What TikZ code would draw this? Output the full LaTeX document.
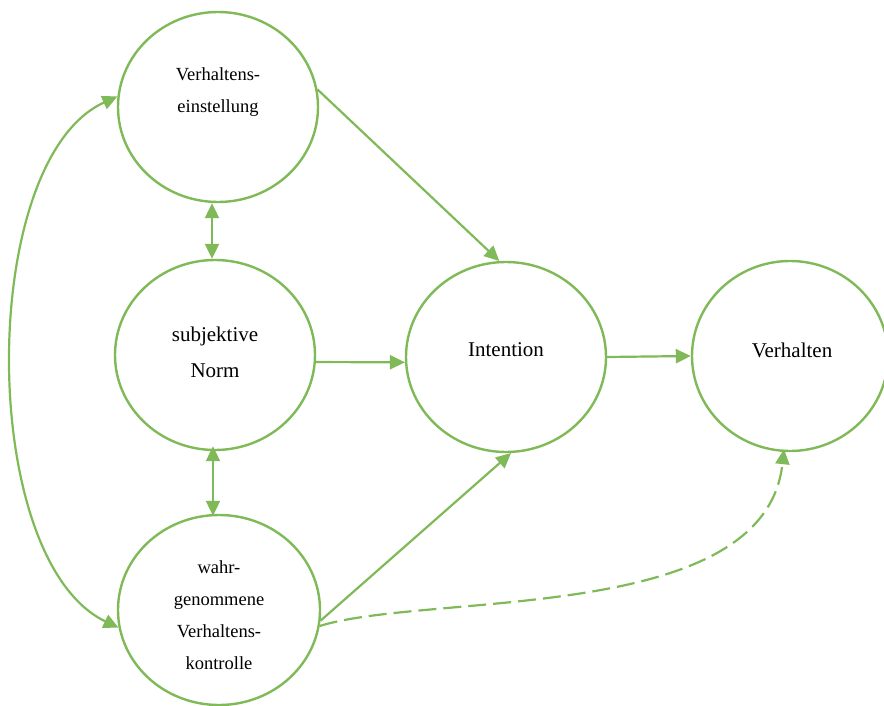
\documentclass[tikz,border=0pt]{standalone}
\usepackage{fontspec}
\setmainfont{Liberation Serif}
\usetikzlibrary{shapes.geometric,arrows.meta}
\definecolor{grn}{RGB}{128,186,88}
\begin{document}
\begin{tikzpicture}[x=1pt,y=-1pt,
  circ/.style={ellipse, draw=grn, line width=2.4pt, minimum width=200pt, minimum height=190pt, inner sep=0pt},
  smalltxt/.style={align=center, inner sep=0pt, font=\fontsize{18.5}{32}\selectfont},
  bigtxt/.style={align=center, inner sep=0pt, font=\fontsize{21}{36}\selectfont},
  conn/.style={draw=grn, line width=2.2pt, -{Triangle[length=15pt,width=14pt]}},
  dconn/.style={draw=grn, line width=2.2pt, {Triangle[length=15pt,width=14pt]}-{Triangle[length=15pt,width=14pt]}},
  dashconn/.style={conn, dash pattern=on 18pt off 7pt}
]
\useasboundingbox (0,0) rectangle (884,706);
\fill[white] (0,0) rectangle (884,706);

\node[circ] (A) at (218,107) {};
\node[circ] (N) at (215,355) {};
\node[circ, minimum width=202pt] (W) at (219,610) {};
\node[circ] (I) at (506,357) {};
\node[circ, minimum width=196pt] (V) at (790,356) {};

\node[smalltxt] (At) at (218,92) {Verhaltens-\\einstellung};
\node[bigtxt] (Nt) at (215,352) {subjektive\\Norm};
\node[smalltxt] (Wt) at (219,615) {wahr-\\genommene\\Verhaltens-\\kontrolle};
\node[bigtxt] (It) at (506,350) {Intention};
\node[bigtxt] (Vt) at (792,350) {Verhalten};

\draw[conn] (A.10) -- (I.94);
\draw[dconn] ([xshift=-6pt]A.south) -- ([xshift=-3pt]N.north);
\draw[conn] (N.-4) -- (I.183);
\draw[dconn] ([xshift=-2pt,yshift=5pt]N.south) -- ([xshift=-6pt,yshift=-2pt]W.north);
\draw[conn] (W.-6) -- (I.-87);
\draw[conn] (I.east) -- (V.west);
\draw[dashconn] (W.-9) .. controls (430,592) and (765,625) .. ([xshift=-6pt,yshift=3pt]V.south);
\draw[dconn] (A.174) .. controls (-23,160) and (-23,560) .. (W.190);
\end{tikzpicture}
\end{document}
